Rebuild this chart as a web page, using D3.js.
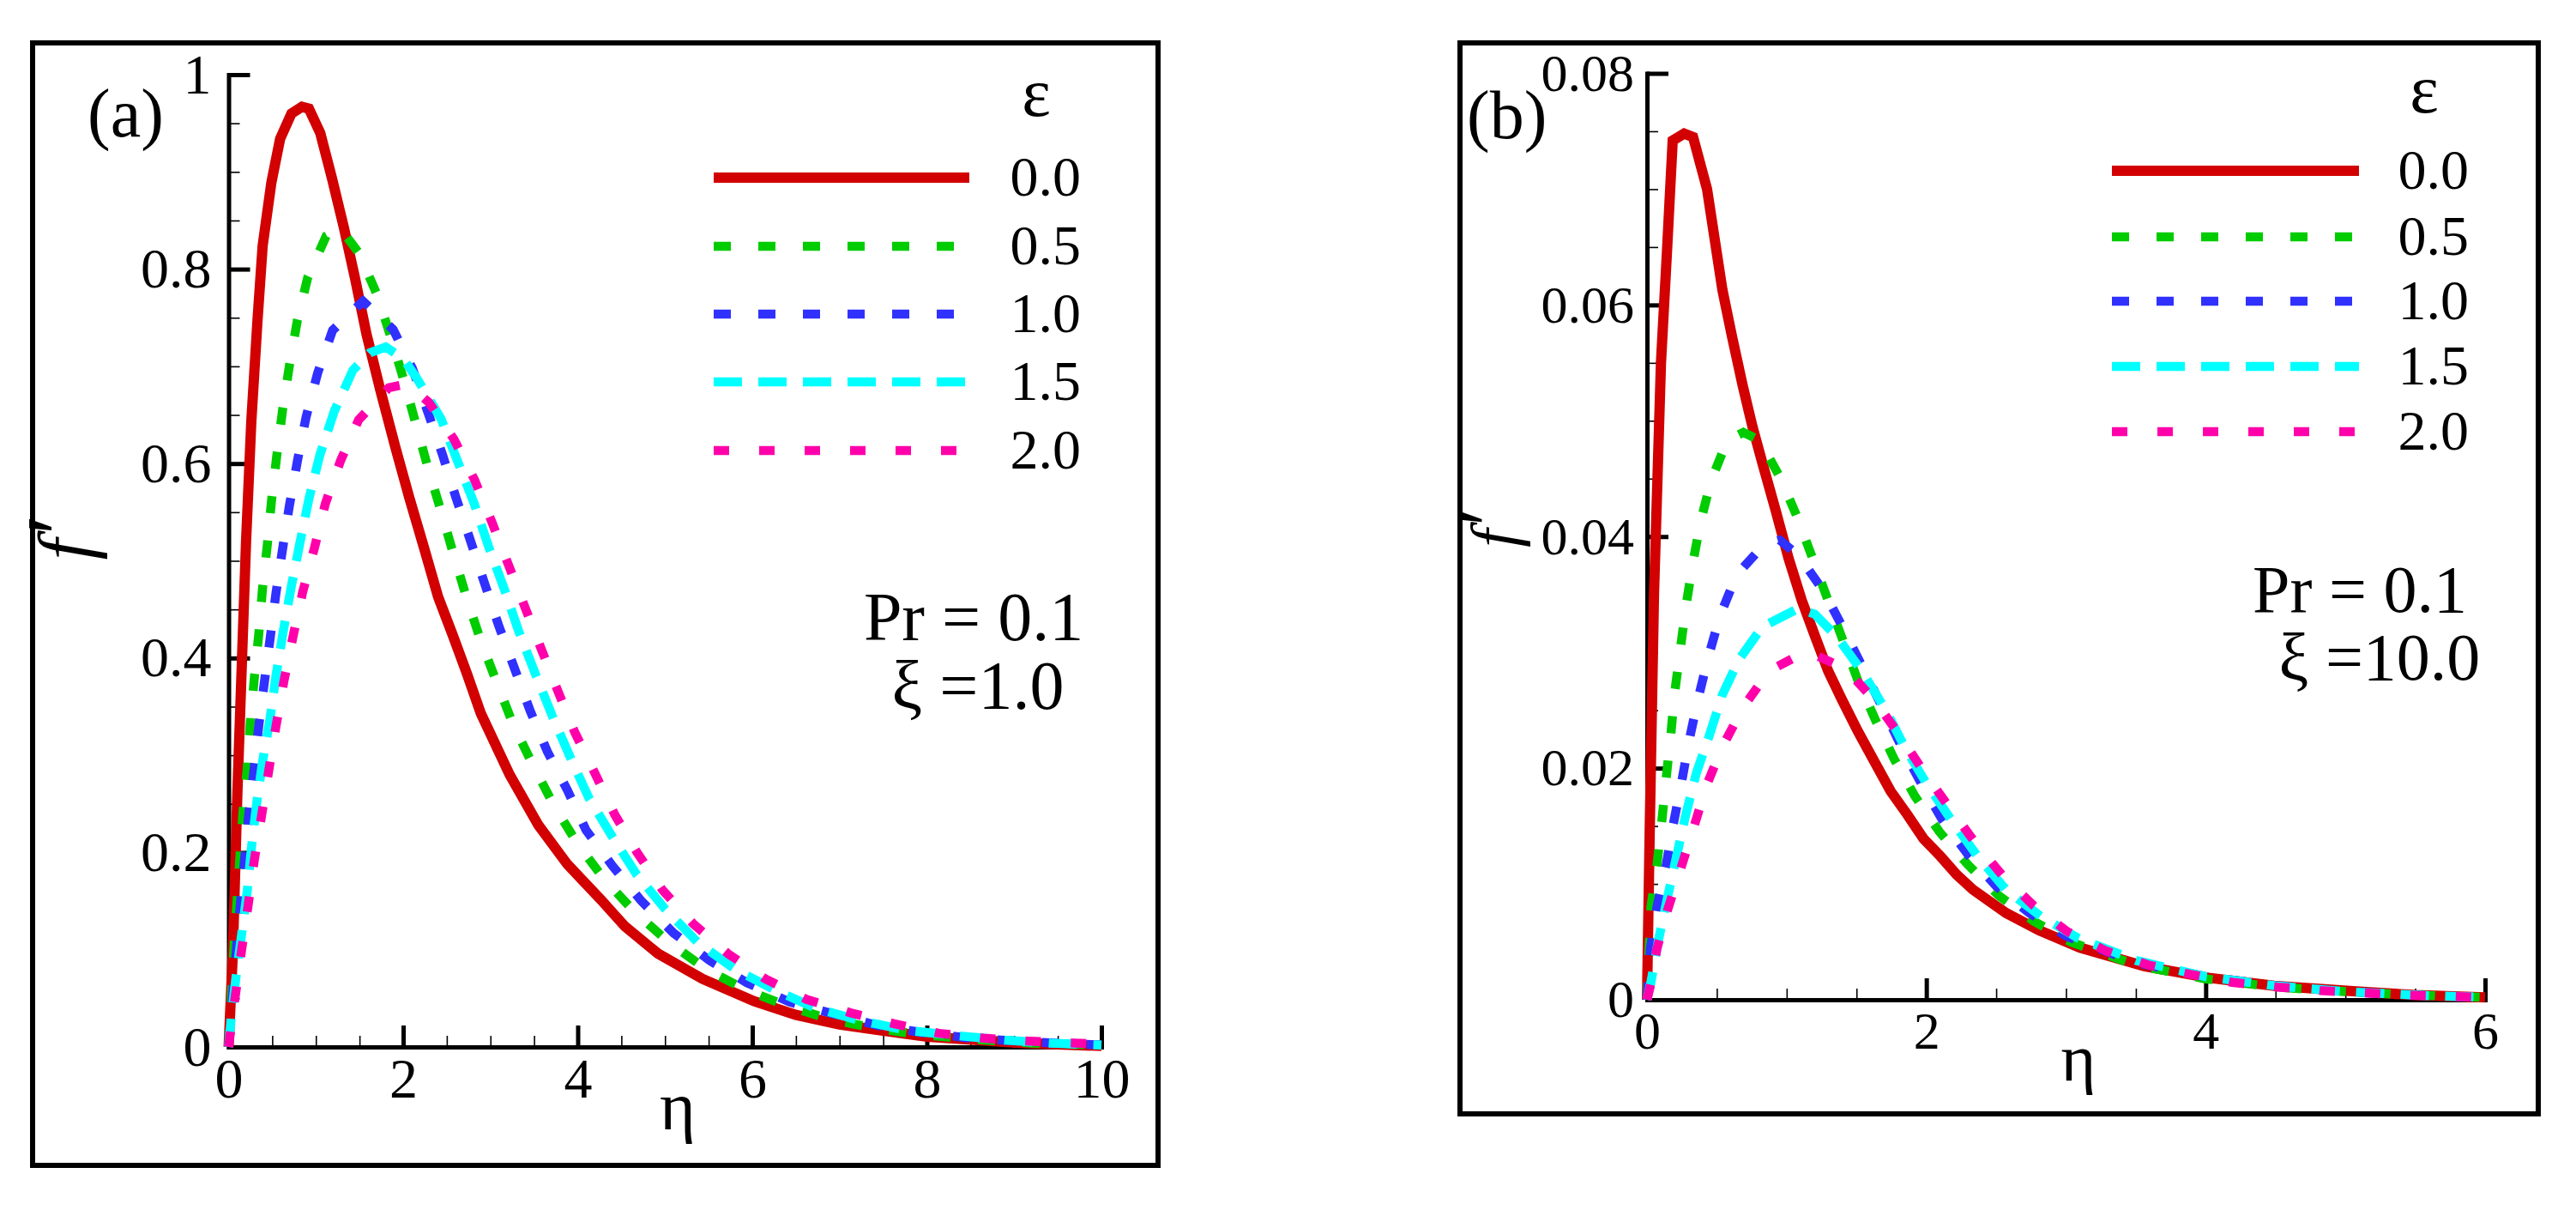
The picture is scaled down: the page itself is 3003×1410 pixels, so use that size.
<!DOCTYPE html>
<html>
<head>
<meta charset="utf-8">
<script src="https://cdn.jsdelivr.net/npm/d3@7.9.0/dist/d3.min.js"></script>
<style>
  body { margin: 0; background: #fff; }
  svg text { font-family: "Liberation Serif", "Times New Roman", serif; fill: #000; }
</style>
</head>
<body>
<svg id="chart" width="3003" height="1410"></svg>
<script>
// --- legend / series ---
const epsLabels = ["0.0", "0.5", "1.0", "1.5", "2.0"];
const seriesColors = ["#d20000", "#00cc00", "#3030ff", "#00ffff", "#ff00aa"];
const seriesDash = [null, "20,32", "20,32", "33,19", "18,35"];

// --- tick labels ---
const xTicksA = [0, 2, 4, 6, 8, 10];
const yTicksA = [0, 0.2, 0.4, 0.6, 0.8, 1];
const xTicksB = [0, 2, 4, 6];
const yTicksB = [0, 0.02, 0.04, 0.06, 0.08];

// --- panel (a): xi = 1.0, [eta, f'] ---
const a_eps00 = [[0,0],[0.05,0.10],[0.1,0.26],[0.15,0.39],[0.2,0.52],[0.26,0.643],[0.33,0.746],[0.39,0.824],[0.49,0.889],[0.59,0.934],[0.72,0.96],[0.84,0.967],[0.92,0.965],[1.05,0.94],[1.18,0.895],[1.32,0.843],[1.45,0.79],[1.58,0.733],[1.74,0.675],[1.91,0.617],[2.07,0.565],[2.24,0.513],[2.4,0.463],[2.57,0.423],[2.73,0.384],[2.89,0.343],[3.22,0.28],[3.55,0.228],[3.88,0.188],[4.26,0.152],[4.54,0.124],[4.92,0.096],[5.43,0.07],[6.02,0.047],[6.5,0.033],[7.0,0.023],[8.0,0.0106],[9.1,0.004],[10,0.001]];
const a_eps05 = [[0,0],[0.066,0.11],[0.164,0.241],[0.214,0.287],[0.247,0.332],[0.296,0.381],[0.345,0.424],[0.388,0.471],[0.444,0.517],[0.493,0.563],[0.553,0.609],[0.618,0.655],[0.697,0.701],[0.789,0.748],[0.908,0.792],[1.118,0.834],[1.28,0.842],[1.497,0.816],[1.704,0.773],[1.859,0.73],[2.007,0.686],[2.148,0.64],[2.286,0.595],[2.434,0.551],[2.576,0.507],[2.73,0.461],[2.888,0.418],[3.076,0.374],[3.263,0.331],[3.487,0.29],[3.724,0.249],[3.997,0.209],[4.3,0.173],[4.65,0.139],[5.04,0.108],[5.47,0.08],[5.92,0.059],[6.4,0.042],[6.91,0.028],[7.42,0.019],[7.89,0.013],[8.5,0.008],[9.2,0.004],[10,0.002]];
const a_eps10 = [[0,0],[0.06,0.07],[0.132,0.144],[0.181,0.191],[0.23,0.239],[0.289,0.283],[0.345,0.33],[0.411,0.376],[0.477,0.421],[0.543,0.467],[0.618,0.512],[0.697,0.557],[0.789,0.603],[0.888,0.648],[1.02,0.693],[1.191,0.737],[1.54,0.767],[1.885,0.738],[2.105,0.698],[2.286,0.652],[2.451,0.609],[2.605,0.565],[2.77,0.521],[2.928,0.478],[3.092,0.434],[3.273,0.39],[3.454,0.346],[3.651,0.304],[3.882,0.264],[4.095,0.223],[4.4,0.186],[4.73,0.15],[5.1,0.117],[5.51,0.089],[5.94,0.066],[6.42,0.0465],[6.93,0.034],[7.44,0.022],[7.93,0.015],[8.5,0.009],[9.2,0.005],[10,0.002]];
const a_eps15 = [[0,0],[0.03,0.03],[0.082,0.07],[0.148,0.115],[0.214,0.161],[0.263,0.206],[0.322,0.251],[0.388,0.293],[0.47,0.335],[0.543,0.382],[0.625,0.427],[0.717,0.473],[0.816,0.518],[0.921,0.564],[1.046,0.609],[1.211,0.654],[1.424,0.696],[1.62,0.714],[1.8,0.72],[2.0,0.708],[2.155,0.688],[2.434,0.646],[2.625,0.602],[2.813,0.559],[2.977,0.515],[3.158,0.471],[3.322,0.428],[3.513,0.384],[3.701,0.342],[3.914,0.298],[4.128,0.256],[4.391,0.217],[4.67,0.178],[5.0,0.142],[5.37,0.108],[5.8,0.08],[6.25,0.059],[6.72,0.04],[7.22,0.0275],[7.77,0.017],[8.3,0.012],[8.9,0.007],[9.4,0.004],[10,0.002]];
const a_eps20 = [[0,0],[0.05,0.035],[0.148,0.099],[0.224,0.146],[0.296,0.193],[0.378,0.238],[0.461,0.285],[0.543,0.33],[0.635,0.377],[0.74,0.423],[0.849,0.468],[0.98,0.512],[1.109,0.559],[1.283,0.603],[1.49,0.645],[1.836,0.678],[2.05,0.682],[2.293,0.663],[2.582,0.625],[2.819,0.583],[3.016,0.54],[3.201,0.497],[3.388,0.454],[3.579,0.41],[3.773,0.366],[3.964,0.324],[4.194,0.282],[4.424,0.239],[4.68,0.2],[4.97,0.1615],[5.32,0.127],[5.72,0.096],[6.15,0.07],[6.62,0.049],[7.13,0.035],[7.62,0.024],[8.14,0.014],[8.65,0.009],[9.17,0.006],[9.68,0.004],[10,0.003]];

// --- panel (b): xi = 10.0 ---
const b_eps00 = [[0,0],[0.02,0.015],[0.05,0.035],[0.1,0.055],[0.143,0.0646],[0.184,0.0742],[0.266,0.0748],[0.33,0.0745],[0.43,0.070],[0.54,0.0613],[0.61,0.0572],[0.684,0.0531],[0.755,0.0495],[0.825,0.0464],[0.92,0.0423],[1.014,0.0381],[1.108,0.0345],[1.203,0.0314],[1.297,0.0284],[1.392,0.026],[1.509,0.0232],[1.627,0.0206],[1.745,0.018],[1.863,0.016],[1.98,0.0139],[2.1,0.0124],[2.217,0.0108],[2.335,0.0095],[2.57,0.0075],[2.807,0.006],[3.1,0.0045],[3.56,0.0029],[4.02,0.0019],[4.49,0.0012],[5.1,0.0007],[5.5,0.0004],[6,0.0002]];
const b_eps05 = [[0,0],[0.028,0.008],[0.071,0.0116],[0.106,0.0154],[0.137,0.0191],[0.17,0.0228],[0.198,0.0265],[0.238,0.0302],[0.278,0.0339],[0.325,0.0375],[0.382,0.0412],[0.458,0.0448],[0.575,0.0483],[0.69,0.049],[0.807,0.0483],[0.958,0.045],[1.078,0.0416],[1.186,0.0381],[1.302,0.0343],[1.509,0.0276],[1.634,0.0242],[1.769,0.0208],[1.917,0.0176],[2.094,0.0145],[2.295,0.0117],[2.517,0.009],[2.767,0.0068],[3.03,0.005],[3.5,0.003],[4.0,0.0018],[4.5,0.0011],[5.0,0.0007],[5.5,0.0004],[6,0.0002]];
const b_eps10 = [[0,0],[0.024,0.0044],[0.071,0.008],[0.137,0.0116],[0.189,0.0152],[0.248,0.0188],[0.302,0.0224],[0.366,0.026],[0.439,0.0296],[0.524,0.0332],[0.642,0.0367],[0.837,0.0393],[0.95,0.0397],[1.09,0.0383],[1.269,0.0352],[1.408,0.032],[1.675,0.0255],[1.816,0.022],[1.958,0.0188],[2.111,0.0156],[2.3,0.0125],[2.5,0.0098],[2.736,0.0075],[3.0,0.0055],[3.5,0.0032],[4.0,0.002],[4.5,0.0012],[5,0.0007],[5.5,0.0004],[6,0.0002]];
const b_eps15 = [[0,0],[0.028,0.0015],[0.083,0.0052],[0.146,0.0088],[0.212,0.0124],[0.278,0.016],[0.354,0.0196],[0.443,0.0227],[0.538,0.0263],[0.66,0.0294],[0.825,0.0322],[1.085,0.0338],[1.2,0.0333],[1.356,0.0314],[1.538,0.0284],[1.71,0.025],[1.85,0.0217],[2.005,0.0186],[2.18,0.0155],[2.36,0.0125],[2.57,0.0095],[2.82,0.0072],[3.09,0.0053],[3.5,0.0034],[4.0,0.002],[4.5,0.0012],[5,0.0007],[5.5,0.0004],[6,0.0002]];
const b_eps20 = [[0,0],[0.03,0.0015],[0.071,0.0044],[0.146,0.0077],[0.241,0.0113],[0.335,0.0149],[0.429,0.0186],[0.542,0.0219],[0.691,0.0253],[0.873,0.0284],[1.144,0.0301],[1.42,0.0286],[1.627,0.0259],[1.811,0.0228],[1.981,0.0197],[2.165,0.0166],[2.347,0.0136],[2.547,0.0107],[2.771,0.0081],[3.007,0.0059],[3.29,0.0042],[3.59,0.003],[3.89,0.0022],[4.19,0.0015],[4.51,0.0011],[4.82,0.0008],[5.12,0.0006],[5.43,0.0004],[5.74,0.0003],[6,0.0002]];

// --- layout of the two panels ---
const panels = [
  {
    box: [38, 50, 1350, 1358],
    xRange: [266.5, 1284], yRange: [1220, 87],
    xDomain: [0, 10], yDomain: [0, 1],
    xTicks: xTicksA, yTicks: yTicksA, xMinor: 0.5, yMinor: 0.05,
    tickFont: 66, xPad: 12, yPad: 20,
    series: [a_eps00, a_eps05, a_eps10, a_eps15, a_eps20],
    legend: { x0: 832, x1: 1130, rows: [207, 287, 366, 445, 525], labelX: 1260, headX: 1208, headY: 135 },
    tag: { text: "(a)", x: 102, y: 159 },
    params: [{ text: "Pr = 0.1", x: 1135, y: 746 }, { text: "\u03be =1.0", x: 1140, y: 826 }],
    paramFont: 80,
    xlabel: { x: 790, y: 1316, size: 80 },
    ylabel: { x: 106, y: 626, size: 88 }
  },
  {
    box: [1702, 50, 2959, 1298],
    xRange: [1920, 2897], yRange: [1165, 85.5],
    xDomain: [0, 6], yDomain: [0, 0.08],
    xTicks: xTicksB, yTicks: yTicksB, xMinor: 0.5, yMinor: 0.005,
    tickFont: 62, xPad: 13, yPad: 15,
    series: [b_eps00, b_eps05, b_eps10, b_eps15, b_eps20],
    legend: { x0: 2462, x1: 2750, rows: [199, 276, 351, 427, 503], labelX: 2878, headX: 2826, headY: 131 },
    tag: { text: "(b)", x: 1710, y: 161 },
    params: [{ text: "Pr = 0.1", x: 2751, y: 713 }, { text: "\u03be =10.0", x: 2774, y: 792 }],
    paramFont: 78,
    xlabel: { x: 2423, y: 1259, size: 78 },
    ylabel: { x: 1768, y: 615, size: 76 }
  }
];

const svg = d3.select("#chart");
svg.append("rect").attr("width", 3003).attr("height", 1410).attr("fill", "#fff");

panels.forEach(drawPanel);

function drawPanel(p) {
  const g = svg.append("g");

  // outer frame
  g.append("rect")
    .attr("x", p.box[0]).attr("y", p.box[1])
    .attr("width", p.box[2] - p.box[0]).attr("height", p.box[3] - p.box[1])
    .attr("fill", "none").attr("stroke", "#000").attr("stroke-width", 6);

  const x = d3.scaleLinear().domain(p.xDomain).range(p.xRange);
  const y = d3.scaleLinear().domain(p.yDomain).range(p.yRange);
  const x0 = p.xRange[0], y0 = p.yRange[0];

  // minor ticks
  const xMinor = d3.range(p.xDomain[0], p.xDomain[1] + 1e-9, p.xMinor);
  const yMinor = d3.range(p.yDomain[0], p.yDomain[1] + 1e-12, p.yMinor);
  g.append("g").attr("transform", `translate(0,${y0})`)
    .call(d3.axisBottom(x).tickValues(xMinor).tickSizeInner(-13).tickSizeOuter(0).tickFormat(""))
    .call(s => s.select(".domain").remove())
    .call(s => s.selectAll("line").attr("stroke-width", 1.6));
  g.append("g").attr("transform", `translate(${x0},0)`)
    .call(d3.axisLeft(y).tickValues(yMinor).tickSizeInner(-13).tickSizeOuter(0).tickFormat(""))
    .call(s => s.select(".domain").remove())
    .call(s => s.selectAll("line").attr("stroke-width", 1.6));

  // major ticks + labels
  const gx = g.append("g").attr("transform", `translate(0,${y0})`)
    .call(d3.axisBottom(x).tickValues(p.xTicks).tickSizeInner(-25).tickSizeOuter(0)
      .tickPadding(p.xPad).tickFormat(d => String(d)));
  const gy = g.append("g").attr("transform", `translate(${x0},0)`)
    .call(d3.axisLeft(y).tickValues(p.yTicks).tickSizeInner(-25).tickSizeOuter(0)
      .tickPadding(p.yPad).tickFormat(d => String(d)));
  [gx, gy].forEach(a => {
    a.attr("font-family", null).attr("font-size", null);
    a.select(".domain").attr("stroke-width", 5).attr("stroke-linecap", "square");
    a.selectAll(".tick line").attr("stroke-width", 5);
    a.selectAll(".tick text").style("font-size", p.tickFont + "px");
  });

  // curves
  const line = d3.line().x(d => x(d[0])).y(d => y(d[1]));
  p.series.forEach((s, i) => {
    g.append("path")
      .datum(s)
      .attr("d", line)
      .attr("fill", "none")
      .attr("stroke", seriesColors[i])
      .attr("stroke-width", i === 0 ? 12 : 10.5)
      .attr("stroke-linejoin", "miter")
      .attr("stroke-miterlimit", 2)
      .attr("stroke-dasharray", seriesDash[i]);
  });

  // legend
  const L = p.legend;
  g.append("text").attr("x", L.headX).attr("y", L.headY)
    .attr("text-anchor", "middle").style("font-size", "80px").text("\u03b5");
  epsLabels.forEach((lab, i) => {
    const ry = L.rows[i];
    g.append("line")
      .attr("x1", L.x0).attr("x2", L.x1).attr("y1", ry).attr("y2", ry)
      .attr("stroke", seriesColors[i])
      .attr("stroke-width", i === 0 ? 12 : 10.5)
      .attr("stroke-dasharray", seriesDash[i]);
    g.append("text").attr("x", L.labelX).attr("y", ry + 21)
      .attr("text-anchor", "end").style("font-size", "66px").text(lab);
  });

  // panel tag and parameters
  g.append("text").attr("x", p.tag.x).attr("y", p.tag.y)
    .style("font-size", "80px").text(p.tag.text);
  p.params.forEach(t => {
    g.append("text").attr("x", t.x).attr("y", t.y)
      .attr("text-anchor", "middle").style("font-size", p.paramFont + "px").text(t.text);
  });

  // axis titles
  g.append("text").attr("x", p.xlabel.x).attr("y", p.xlabel.y)
    .attr("text-anchor", "middle").style("font-size", p.xlabel.size + "px").text("\u03b7");
  const yl = g.append("text")
    .attr("transform", `translate(${p.ylabel.x},${p.ylabel.y}) rotate(-90)`)
    .attr("text-anchor", "middle").style("font-size", p.ylabel.size + "px");
  yl.append("tspan").style("font-style", "italic").text("f");
  yl.append("tspan").attr("dx", "0.04em").style("font-size", "1.25em").text("\u2032");
}
</script>
</body>
</html>
